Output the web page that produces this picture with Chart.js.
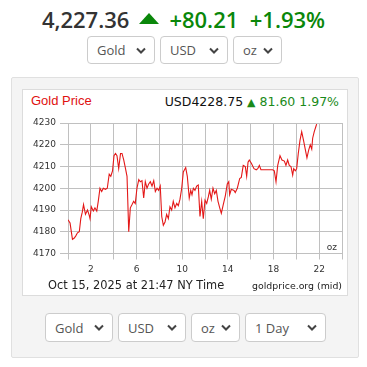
<!DOCTYPE html>
<html>
<head>
<meta charset="utf-8">
<script src="https://cdn.jsdelivr.net/npm/chart.js@4/dist/chart.umd.min.js"></script>
<style>
  body { margin: 0; width: 367px; height: 367px; position: relative; background: #fff; font-family: 'Open Sans', sans-serif; overflow: hidden; }
  .abs { position: absolute; }
  #head { left: 0; top: 4px; width: 367px; text-align: center; font-size: 22px; font-weight: 600; line-height: 30px; white-space: nowrap; }
  #head .price { color: #333; }
  #head .up { color: #0a870a; }
  #head svg { display: inline-block; vertical-align: 4px; margin: 0 10px 0 10px; }
  select { position: absolute; -webkit-appearance: none; appearance: none; box-sizing: border-box; border: 1px solid #ccc; border-radius: 4px; background: #fff url("data:image/svg+xml;utf8,<svg xmlns='http://www.w3.org/2000/svg' width='10' height='7'><path d='M1 1.5 L5 5.5 L9 1.5' fill='none' stroke='%23444' stroke-width='2'/></svg>") no-repeat right 8px center; font-family: 'Open Sans', sans-serif; font-size: 13px; color: #555; padding: 0 0 0 9px; margin: 0; }
  #panel { left: 11px; top: 77px; width: 346px; height: 279px; background: #f4f4f4; border: 1px solid #e0e0e0; border-radius: 2px; }
  #box { left: 22px; top: 89px; width: 324px; height: 205px; background: #fff; border: 1px solid #dcdcdc; }
  #ttl { left: 31px; top: 92px; font-family: 'Liberation Sans', Arial, sans-serif; font-size: 13px; color: #e01010; line-height: 18px; }
  #quote { right: 28px; top: 93px; font-family: 'DejaVu Sans', Verdana, sans-serif; font-size: 12.5px; color: #111; line-height: 18px; white-space: nowrap; }
  #quote .g { color: #1a8a1a; }
  #quote .tri { color: #1a8a1a; font-size: 11px; }
  #plotwrap { left: 22px; top: 113px; width: 326px; height: 167px; }
  #stamp { left: 48px; top: 277px; font-family: 'DejaVu Sans', Verdana, sans-serif; font-size: 11.4px; color: #222; line-height: 16px; white-space: nowrap; }
  #src { right: 25px; top: 279px; font-family: 'DejaVu Sans', Verdana, sans-serif; font-size: 9.4px; color: #222; line-height: 14px; white-space: nowrap; }
</style>
</head>
<body>
<div id="head" class="abs"><span class="price">4,227.36</span><svg width="20" height="11" viewBox="0 0 20 11"><path d="M10 0 L20 11 L0 11 Z" fill="#0a870a"/></svg><span class="up">+80.21</span>&nbsp;&nbsp;<span class="up">+1.93%</span></div>

<select style="left:87px;top:36px;width:68px;height:28px;"><option>Gold</option></select>
<select style="left:160px;top:36px;width:68px;height:28px;"><option>USD</option></select>
<select style="left:233px;top:36px;width:49px;height:28px;"><option>oz</option></select>

<div id="panel" class="abs"></div>
<div id="box" class="abs"></div>
<div id="ttl" class="abs">Gold Price</div>
<div id="quote" class="abs">USD4228.75 <span class="tri">&#9650;</span><span class="g"> 81.60 1.97%</span></div>
<div id="plotwrap" class="abs"><canvas id="chart" width="326" height="167"></canvas></div>
<div id="stamp" class="abs">Oct 15, 2025 at 21:47 NY Time</div>
<div id="src" class="abs">goldprice.org (mid)</div>

<select style="left:45px;top:313px;width:68px;height:29px;"><option>Gold</option></select>
<select style="left:118px;top:313px;width:68px;height:29px;"><option>USD</option></select>
<select style="left:191px;top:313px;width:49px;height:29px;"><option>oz</option></select>
<select style="left:245px;top:313px;width:81px;height:29px;"><option>1 Day</option></select>

<script>
// hours since midnight (NY time) and gold price, USD/oz
const hours = [
  0.00, 0.18, 0.39, 0.53, 0.67, 0.83, 0.99, 1.12, 1.25, 1.36, 1.53, 1.71, 1.86, 1.93,
  2.04, 2.22, 2.36, 2.52, 2.65, 2.80, 2.95, 3.09, 3.28, 3.44, 3.61, 3.75, 3.90,
  4.03, 4.16, 4.29, 4.44, 4.60, 4.73, 4.88, 5.02, 5.17, 5.32, 5.46, 5.61, 5.75, 5.89,
  6.04, 6.20, 6.33, 6.48, 6.63, 6.77, 6.92, 7.07, 7.21, 7.36, 7.51, 7.65, 7.80, 7.94,
  8.08, 8.21, 8.35, 8.50, 8.64, 8.79, 8.93, 9.08, 9.22, 9.37, 9.52, 9.66, 9.81, 9.96,
  10.10, 10.31, 10.45, 10.62, 10.75, 10.86, 10.98, 11.12, 11.27, 11.41, 11.56, 11.71, 11.85,
  12.00, 12.15, 12.29, 12.41, 12.55, 12.70, 12.85, 12.99, 13.14, 13.29, 13.43, 13.58, 13.78, 13.95,
  14.08, 14.16, 14.30, 14.54, 14.65, 14.83, 15.04, 15.18, 15.35, 15.53, 15.65, 15.77, 15.88,
  16.06, 16.29, 16.49, 16.62, 16.76, 16.90, 17.93,
  18.07, 18.22, 18.37, 18.57, 18.74, 18.95, 19.09, 19.24, 19.38, 19.53, 19.68, 19.77, 19.91,
  20.03, 20.17, 20.32, 20.47, 20.63, 20.78, 20.93, 21.08, 21.22, 21.35, 21.43, 21.57, 21.72, 21.78
];
const prices = [
  4185.5, 4184, 4176.5, 4177, 4178, 4179.5, 4180, 4186, 4189, 4192.5, 4188, 4190, 4187.5, 4186,
  4191.5, 4189.5, 4191, 4189.5, 4194, 4200, 4198.5, 4200, 4199.5, 4200, 4206.5, 4205.5, 4208,
  4215, 4216, 4215, 4209, 4216, 4216, 4213, 4209.5, 4205.5, 4180, 4191, 4192.5, 4194, 4193,
  4200, 4204, 4203, 4203.5, 4195.5, 4203, 4200, 4202, 4203, 4201, 4203.5, 4198.5, 4200, 4199,
  4201, 4187, 4183, 4184.5, 4188, 4186, 4191.5, 4190, 4194, 4191, 4193, 4192, 4195, 4200,
  4207.5, 4209.5, 4205.5, 4195.5, 4199, 4197, 4200, 4199, 4201, 4201.5, 4187, 4194, 4186,
  4194.5, 4193, 4196, 4199, 4195, 4200, 4197.5, 4199, 4194, 4191, 4188.5, 4192, 4196.5, 4202,
  4203, 4197, 4199.5, 4199, 4198, 4200, 4204.5, 4205, 4210.5, 4210, 4205.5, 4212, 4213,
  4211.5, 4209, 4208.5, 4209, 4210.5, 4208.5, 4208.5,
  4208, 4203, 4210.5, 4215, 4213, 4212.5, 4210.5, 4213, 4210.5, 4210, 4206, 4209, 4208,
  4209, 4216, 4222, 4226, 4222, 4218, 4214, 4217.5, 4220, 4218, 4223, 4226, 4228.5, 4229.5
];
const hourLabels = [2, 6, 10, 14, 18, 22];
const priceTicks = [4170, 4180, 4190, 4200, 4210, 4220, 4230];

const axisFont = { family: "'DejaVu Sans', Verdana, sans-serif", size: 9 };

const unitLabel = {
  id: 'unitLabel',
  afterDatasetsDraw(chart) {
    const { ctx, chartArea } = chart;
    ctx.save();
    ctx.font = "9px 'DejaVu Sans', Verdana, sans-serif";
    ctx.fillStyle = '#333';
    ctx.textAlign = 'right';
    ctx.textBaseline = 'middle';
    ctx.fillText('oz', chartArea.right - 5, chartArea.bottom - 6);
    ctx.restore();
  }
};

new Chart(document.getElementById('chart'), {
  type: 'line',
  data: {
    datasets: [{
      data: hours.map((h, i) => ({ x: h, y: prices[i] })),
      borderColor: '#e41818',
      borderWidth: 1.1,
      pointRadius: 0,
      tension: 0,
      fill: false
    }]
  },
  options: {
    responsive: false,
    animation: false,
    events: [],
    layout: { padding: { top: 10, right: 6, left: 0, bottom: 0 } },
    plugins: { legend: { display: false }, tooltip: { enabled: false } },
    scales: {
      x: {
        type: 'linear',
        min: 0,
        max: 24,
        afterFit: (s) => { s.height = 26.5; },
        grid: { color: '#c0c0c0', lineWidth: 1, tickLength: 6 },
        border: { color: '#c0c0c0' },
        ticks: {
          stepSize: 2,
          autoSkip: false,
          maxRotation: 0,
          padding: 5,
          color: '#333',
          font: axisFont,
          callback: (v) => hourLabels.includes(v) ? String(v) : ''
        }
      },
      y: {
        min: priceTicks[0],
        max: priceTicks[priceTicks.length - 1],
        afterFit: (s) => { s.width = 46; },
        grid: { color: '#c0c0c0', lineWidth: 1, tickLength: 8 },
        border: { color: '#c0c0c0' },
        ticks: { stepSize: 10, padding: 4, color: '#333', font: axisFont, callback: (v) => String(v) }
      }
    }
  },
  plugins: [unitLabel]
});
</script>
</body>
</html>
